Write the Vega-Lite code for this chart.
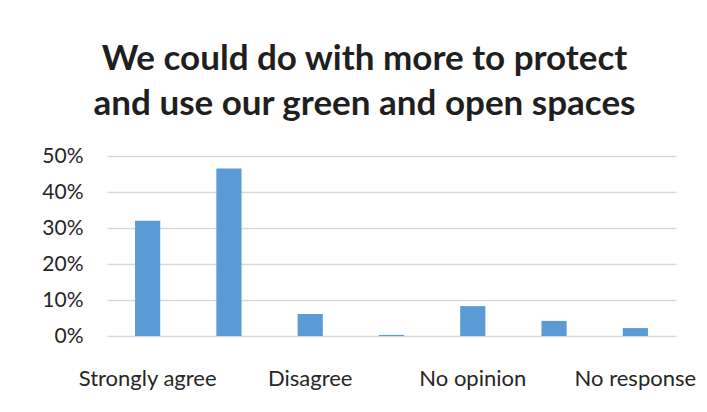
{
  "$schema": "https://vega.github.io/schema/vega-lite/v6.json",
  "width": 569,
  "height": 180,
  "padding": {"left": 12, "top": 42, "right": 31, "bottom": 10},
  "background": "white",
  "title": {
    "text": ["We could do with more to protect", "and use our green and open spaces"],
    "font": "Lato",
    "fontSize": 35,
    "fontWeight": "bold",
    "color": "#1f1f1f",
    "lineHeight": 45,
    "anchor": "middle",
    "dx": -27,
    "offset": 23
  },
  "data": {
    "values": [
      {"response": "Strongly agree", "share": 0.32},
      {"response": "Agree", "share": 0.465},
      {"response": "Disagree", "share": 0.061},
      {"response": "Strongly disagree", "share": 0.003},
      {"response": "No opinion", "share": 0.083},
      {"response": "Don't know", "share": 0.042},
      {"response": "No response", "share": 0.022}
    ]
  },
  "mark": {"type": "bar", "color": "#5b9bd5"},
  "encoding": {
    "x": {
      "field": "response",
      "type": "nominal",
      "sort": null,
      "scale": {"paddingInner": 0.69, "paddingOuter": 0.345},
      "axis": {
        "title": null,
        "values": ["Strongly agree", "Disagree", "No opinion", "No response"],
        "labelAngle": 0,
        "labelFont": "Lato",
        "labelFontSize": 22,
        "labelColor": "#262626",
        "labelPadding": 32,
        "ticks": false,
        "domain": false,
        "grid": false,
        "labelOverlap": false
      }
    },
    "y": {
      "field": "share",
      "type": "quantitative",
      "scale": {"domain": [0, 0.5]},
      "axis": {
        "title": null,
        "format": ".0%",
        "values": [0, 0.1, 0.2, 0.3, 0.4, 0.5],
        "labelOverlap": false,
        "labelFont": "Lato",
        "labelFontSize": 21,
        "labelColor": "#262626",
        "labelPadding": 24,
        "ticks": false,
        "domain": false,
        "gridColor": "#d9d9d9",
        "gridWidth": 1.5,
        "minExtent": 95,
        "maxExtent": 95
      }
    }
  },
  "config": {"view": {"stroke": null}}
}
